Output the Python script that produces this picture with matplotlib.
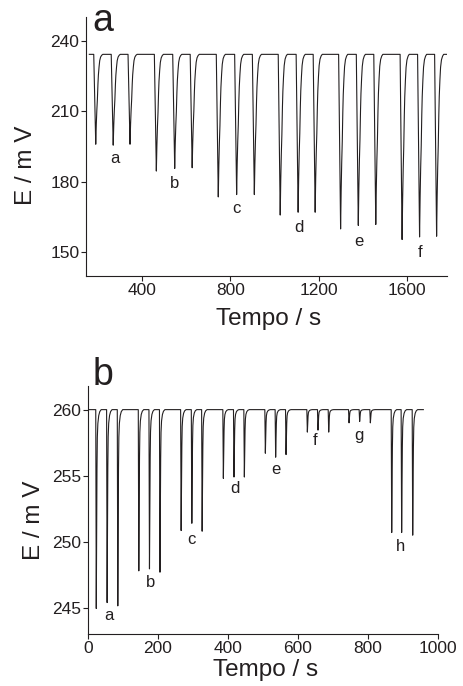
import matplotlib
matplotlib.use("Agg")
import matplotlib.pyplot as plt

plt.rcParams['font.family'] = ['Liberation Sans', 'DejaVu Sans']

INK = '#231f20'

# panel a: successive injections, baseline and peak minima (mV)
a_base = 234.2
a_span = [163, 1779]
a_peak_t = [192, 271, 347, 466, 549, 628, 746, 829, 909,
            1026, 1107, 1184, 1299, 1379, 1458, 1577, 1656, 1733]
a_peak_e = [196.0, 195.6, 196.0, 184.6, 185.7, 186.0, 173.6, 174.6, 174.6,
            165.9, 167.1, 167.1, 160.0, 161.5, 161.9, 155.5, 156.6, 156.9]
# peak profile of panel a: seconds from the minimum, fraction of the depth
a_shape_dt = [-9, -6, -3, 0, 2.5, 5, 7.5, 10, 12, 15, 18, 22, 27, 32]
a_shape_frac = [0, 0.35, 0.68, 1, 0.78, 0.62, 0.5, 0.33, 0.23, 0.14, 0.07, 0.03, 0.01, 0]
a_labels = ['a', 'b', 'c', 'd', 'e', 'f']
a_label_t = [279, 550, 829, 1110, 1383, 1660]
a_label_e = [187.9, 177.2, 166.6, 158.8, 152.8, 147.9]

# panel b
b_base = 260.0
b_span = [2, 959]
b_peak_t = [24.5, 55.5, 86, 146, 176.5, 206.5, 267, 297.5, 327,
            387.6, 418, 447.6, 507.6, 537, 566.7, 627.6, 658, 688.6,
            746.7, 777, 807.6, 868.6, 897, 928.6]
b_peak_e = [244.95, 245.4, 245.15, 247.8, 247.95, 247.7, 250.85, 251.4, 250.8,
            254.8, 254.9, 254.9, 256.7, 256.4, 256.6, 258.3, 258.45, 258.3,
            259.0, 259.1, 259.0, 250.7, 250.7, 250.5]
b_shape_dt = [-1.5, 0, 1, 2, 3, 4.5, 7, 10, 14]
b_shape_frac = [0, 1, 0.6, 0.3, 0.14, 0.07, 0.03, 0.01, 0]
b_labels = ['a', 'b', 'c', 'd', 'e', 'f', 'g', 'h']
b_label_t = [62, 180, 297, 421, 538, 649, 776, 895]
b_label_e = [244.06, 246.6, 249.8, 253.7, 255.1, 257.3, 257.7, 249.3]


def build_trace(span, base, peak_t, peak_e, shape_dt, shape_frac):
    t = [span[0]]
    e = [base]
    for tp, ep in zip(peak_t, peak_e):
        for d, f in zip(shape_dt, shape_frac):
            t.append(tp + d)
            e.append(base - (base - ep) * f)
    t.append(span[1])
    e.append(base)
    return t, e


def style_axes(ax):
    for side in ['top', 'right']:
        ax.spines[side].set_visible(False)
    for side in ['left', 'bottom']:
        ax.spines[side].set_linewidth(0.8)
        ax.spines[side].set_color(INK)
    ax.tick_params(direction='out', length=3.3, width=0.8, pad=1.5,
                   labelsize=12.5, colors=INK)


fig = plt.figure(figsize=(4.64, 6.86), dpi=100)

# --- panel a ---
ax_a = fig.add_axes([86 / 464, 1 - 276 / 686, 361 / 464, 259.3 / 686])
ta, ea = build_trace(a_span, a_base, a_peak_t, a_peak_e, a_shape_dt, a_shape_frac)
ax_a.plot(ta, ea, color=INK, lw=0.8)
for lab, x, y in zip(a_labels, a_label_t, a_label_e):
    ax_a.text(x, y, lab, ha='center', va='baseline', fontsize=12, color=INK)
ax_a.set_xlim(148, 1780)
ax_a.set_ylim(140, 250.2)
ax_a.set_xticks([400, 800, 1200, 1600])
ax_a.set_yticks([150, 180, 210, 240])
style_axes(ax_a)
ax_a.set_xlabel('Tempo / s', fontsize=17.5, color=INK)
ax_a.set_ylabel('E / m V', fontsize=17.5, color=INK)
ax_a.xaxis.set_label_coords(0.505, -0.125)
ax_a.yaxis.set_label_coords(-0.136, 0.425)

# --- panel b ---
ax_b = fig.add_axes([87.7 / 464, 1 - 634.3 / 686, 350 / 464, 247.8 / 686])
tb, eb = build_trace(b_span, b_base, b_peak_t, b_peak_e, b_shape_dt, b_shape_frac)
ax_b.plot(tb, eb, color=INK, lw=0.8)
for lab, x, y in zip(b_labels, b_label_t, b_label_e):
    ax_b.text(x, y, lab, ha='center', va='baseline', fontsize=12, color=INK)
ax_b.set_xlim(0, 1000)
ax_b.set_ylim(243.0, 261.75)
ax_b.set_xticks([0, 200, 400, 600, 800, 1000])
ax_b.set_yticks([245, 250, 255, 260])
style_axes(ax_b)
ax_b.set_xlabel('Tempo / s', fontsize=17.5, color=INK)
ax_b.set_ylabel('E / m V', fontsize=17.5, color=INK)
ax_b.xaxis.set_label_coords(0.509, -0.10)
ax_b.yaxis.set_label_coords(-0.122, 0.461)

# panel letters
fig.text(92 / 464, 1 - 31 / 686, 'a', fontsize=27, color=INK, ha='left', va='baseline')
fig.text(92.7 / 464, 1 - 385 / 686, 'b', fontsize=27, color=INK, ha='left', va='baseline')

fig.savefig('out.png', dpi=100)
